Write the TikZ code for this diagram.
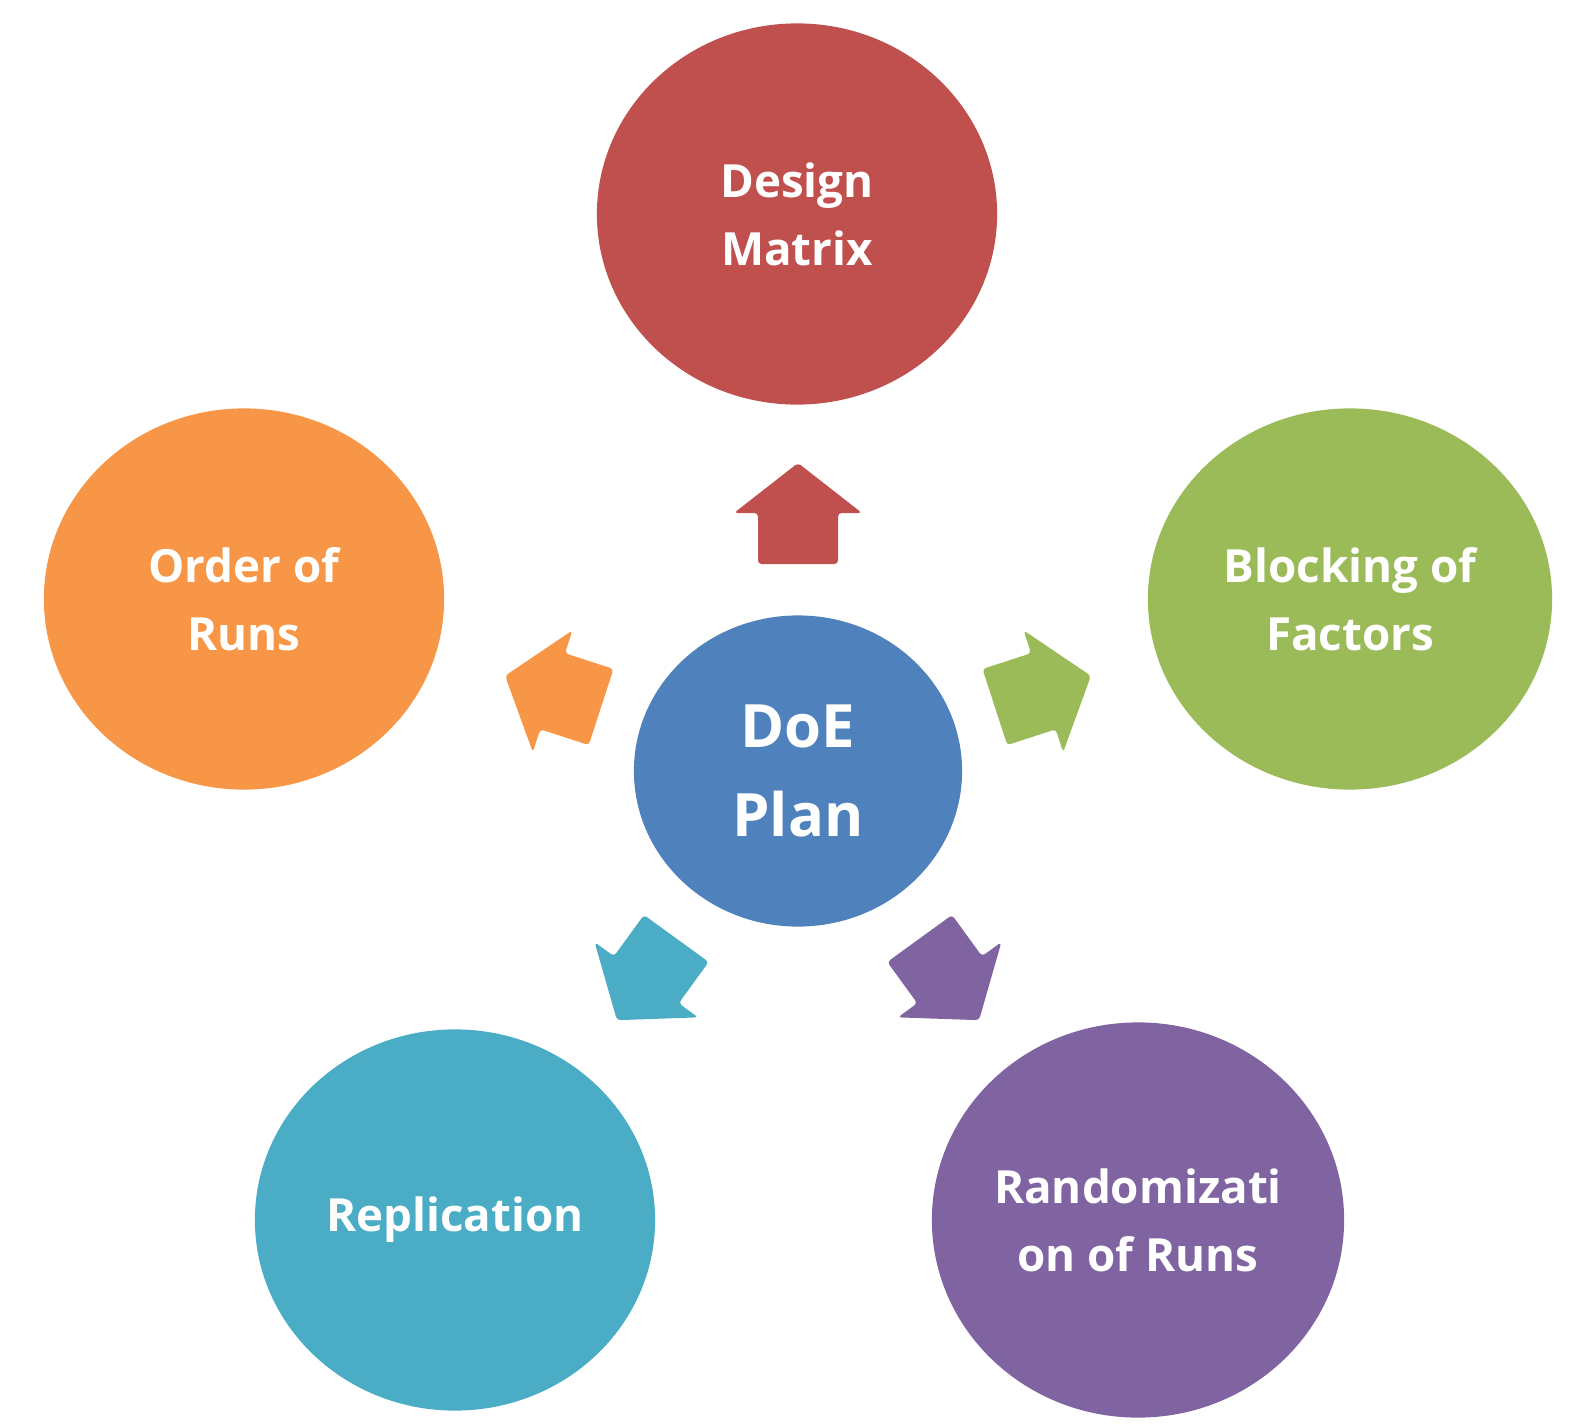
\documentclass[tikz,border=0pt]{standalone}
\usepackage{fontspec}
\setmainfont{Open Sans}
\usetikzlibrary{shapes.geometric,positioning}
\definecolor{mred}{RGB}{192,80,77}
\definecolor{morange}{RGB}{247,150,70}
\definecolor{mgreen}{RGB}{155,187,89}
\definecolor{mblue}{RGB}{79,129,189}
\definecolor{maqua}{RGB}{75,172,198}
\definecolor{mpurple}{RGB}{128,100,162}
% block arrow pointing away from the plan node
\newcommand{\RadialArrow}[3][]{
  \begin{scope}[shift={(plan.center)},rotate=#3]
  \fill[#2,rounded corners=1pt,#1] (207,-40) -- (258,-40) -- (258,-64)
    -- (308,0) -- (258,64) -- (258,40) -- (207,40) -- cycle;
  \end{scope}
}

\begin{document}
\begin{tikzpicture}[x=0.01cm,y=-0.01cm,
  bubble/.style={ellipse,fill=#1,minimum width=4cm,minimum height=3.81cm,
    inner sep=0pt,text=white,align=center,
    font=\bfseries\fontsize{13}{19.4}\selectfont}]
  \useasboundingbox (0,0) rectangle (1572,1424);
  \node[bubble=mblue,minimum width=3.28cm,minimum height=3.11cm,
    font=\bfseries\fontsize{17}{25.5}\selectfont] (plan) at (798,771)
    {DoE\\Plan};
  \node[bubble=mred] (design) at (797,214) {Design\\Matrix};
  \node[bubble=morange] (order) at (244,599) {Order of\\Runs};
  \node[bubble=mgreen,minimum width=4.04cm] (blocking) at (1350,599)
    {Blocking of\\Factors};
  \node[bubble=maqua] (replication) at (455,1220) {Replication};
  \node[bubble=mpurple,minimum width=4.12cm,minimum height=3.95cm]
    (random) at (1138,1220) {Randomizati\\on of Runs};
  \RadialArrow{mred}{90}
  \RadialArrow{morange}{162}
  \RadialArrow{mgreen}{18}
  \RadialArrow{maqua}{234}
  \RadialArrow{mpurple}{306}
\end{tikzpicture}
\end{document}
